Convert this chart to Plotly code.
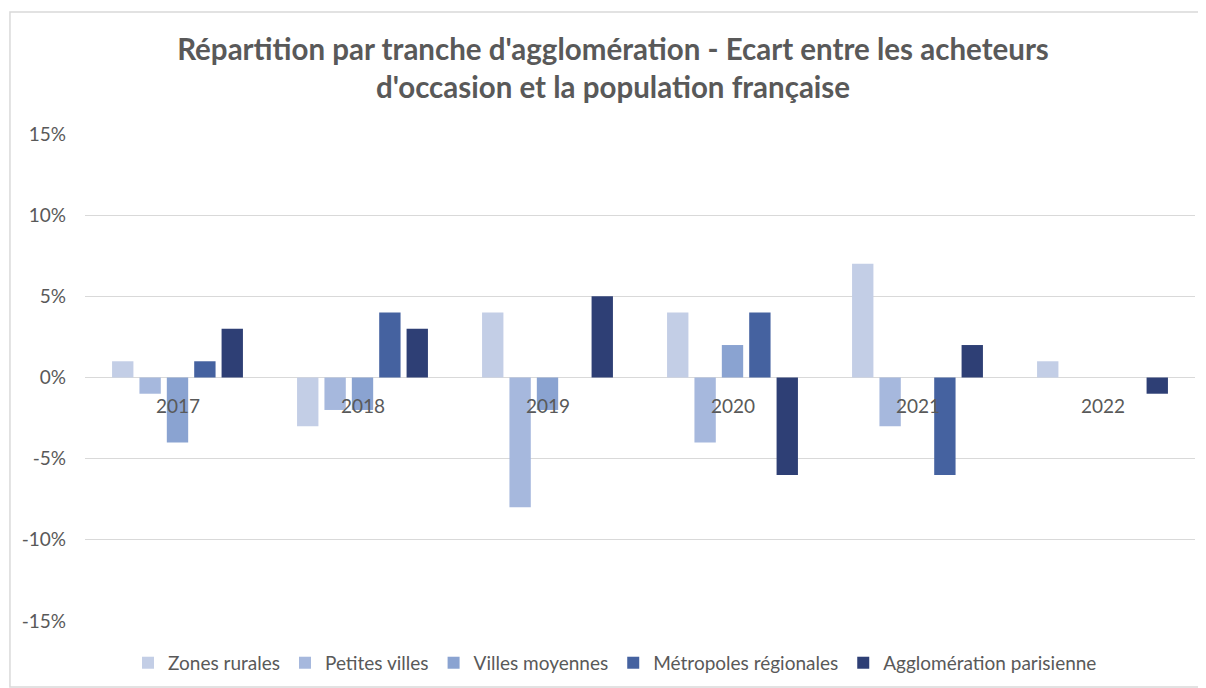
import plotly.graph_objects as go

years = ["2017", "2018", "2019", "2020", "2021", "2022"]
series_names = ["Zones rurales", "Petites villes", "Villes moyennes",
                "Métropoles régionales", "Agglomération parisienne"]
zones_rurales = [0.01, -0.03, 0.04, 0.04, 0.07, 0.01]
petites_villes = [-0.01, -0.02, -0.08, -0.04, -0.03, 0.0]
villes_moyennes = [-0.04, -0.02, -0.02, 0.02, 0.0, 0.0]
metropoles = [0.01, 0.04, 0.0, 0.04, -0.06, 0.0]
agglo_paris = [0.03, 0.03, 0.05, -0.06, 0.02, -0.01]
colors = ["#C3CEE6", "#A6B8DD", "#8AA3D1", "#4562A0", "#2E3F75"]
y_ticks = [-0.15, -0.10, -0.05, 0.0, 0.05, 0.10, 0.15]
y_tick_text = ["-15%", "-10%", "-5%", "0%", "5%", "10%", "15%"]

values = [zones_rurales, petites_villes, villes_moyennes, metropoles, agglo_paris]
FONT = "Lato, 'Noto Sans', sans-serif"
GREY = "#595959"

fig = go.Figure()
for name, vals, col in zip(series_names, values, colors):
    fig.add_trace(go.Bar(x=years, y=vals, name=name, marker_color=col,
                         marker_line_width=0))

# category labels drawn next to the zero line (category index positions)
annotations = [dict(x=i, y=0, xref="x", yref="y", text=yr, showarrow=False,
                    yshift=-28, font=dict(family=FONT, size=19, color=GREY))
               for i, yr in enumerate(years)]

fig.update_layout(
    width=1198, height=680,
    margin=dict(l=77, r=11, t=126, b=67, autoexpand=False),
    paper_bgcolor="white", plot_bgcolor="white",
    barmode="group", bargap=0.26, bargroupgap=0.22,
    title=dict(text="Répartition par tranche d'agglomération - Ecart entre les acheteurs<br>d'occasion et la population française",
               x=0.505, xanchor="center", y=0.9235, yanchor="middle",
               font=dict(family=FONT, size=29.5, color=GREY, weight="bold")),
    font=dict(family=FONT, size=19, color=GREY),
    xaxis=dict(type="category", range=[-0.5, len(years) - 0.5], showticklabels=False,
               showgrid=False, zeroline=False, showline=False, ticks=""),
    yaxis=dict(range=[-0.15, 0.15], tickvals=y_ticks, ticktext=y_tick_text,
               showgrid=True, gridcolor="#D9D9D9", gridwidth=1,
               zeroline=True, zerolinecolor="#D9D9D9", zerolinewidth=1,
               tickfont=dict(family=FONT, size=19, color=GREY), ticklabelstandoff=18),
    legend=dict(orientation="h", x=0.4775, xanchor="center", y=-0.086, yanchor="middle",
                font=dict(family=FONT, size=19, color=GREY), traceorder="normal",
                itemwidth=30),
    annotations=annotations,
    shapes=[dict(type="rect", xref="paper", yref="paper", x0=-0.0676, x1=1.009,
                 y0=-0.1355, y1=1.2505, line=dict(color="#D9D9D9", width=1.5),
                 layer="below")],
)

fig.write_html("out.html")
